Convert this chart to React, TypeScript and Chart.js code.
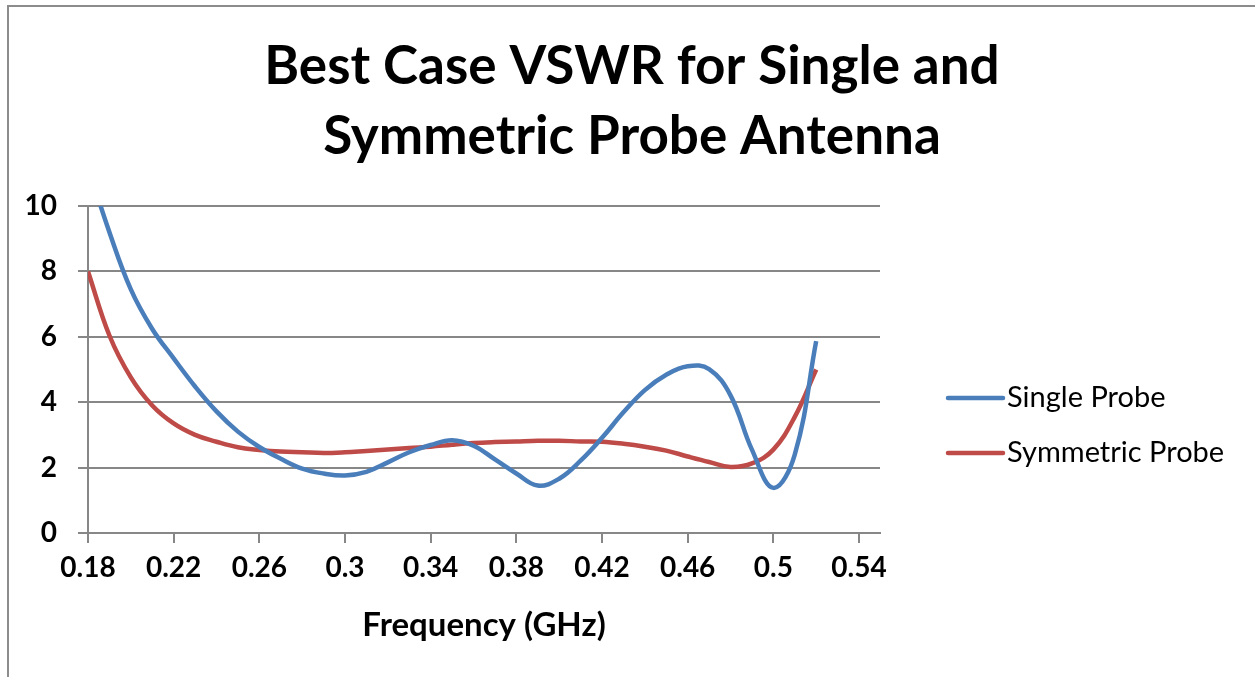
import React, { useEffect, useRef } from "react";
import { Chart, registerables } from "chart.js";

Chart.register(...registerables);

const frequency = [
  0.18, 0.19, 0.2, 0.21, 0.22, 0.23, 0.24, 0.25, 0.26, 0.27, 0.28, 0.29,
  0.3, 0.31, 0.32, 0.33, 0.34, 0.35, 0.36, 0.37, 0.38, 0.39, 0.4, 0.41,
  0.42, 0.43, 0.44, 0.45, 0.46, 0.47, 0.48, 0.49, 0.5, 0.51, 0.52,
];
const singleProbe = [
  11.2, 9.2, 7.45, 6.24, 5.34, 4.48, 3.72, 3.1, 2.63, 2.27, 1.97, 1.82,
  1.76, 1.87, 2.16, 2.47, 2.69, 2.84, 2.67, 2.25, 1.82, 1.45, 1.66, 2.21,
  2.91, 3.69, 4.37, 4.84, 5.1, 5.01, 4.21, 2.55, 1.38, 2.4, 5.87,
];
const symmetricProbe = [
  8.0, 6.04, 4.76, 3.9, 3.35, 3.0, 2.79, 2.62, 2.54, 2.49, 2.47, 2.45,
  2.47, 2.51, 2.55, 2.6, 2.64, 2.7, 2.75, 2.78, 2.8, 2.82, 2.82, 2.8,
  2.79, 2.73, 2.64, 2.52, 2.34, 2.17, 2.02, 2.13, 2.55, 3.55, 5.0,
];
const seriesLabels = ["Single Probe", "Symmetric Probe"];
const seriesColors = ["#4A7EBB", "#BE4B48"];
const xTicks = [0.18, 0.22, 0.26, 0.3, 0.34, 0.38, 0.42, 0.46, 0.5, 0.54];
const yTicks = [0, 2, 4, 6, 8, 10];
const titleLines = ["Best Case VSWR for Single and", "Symmetric Probe Antenna"];
const xAxisTitle = "Frequency (GHz)";

const FONT = "Lato, 'Open Sans', sans-serif";
const GRID = "#878787";

const frameTitleLegend = {
  id: "frameTitleLegend",
  afterDraw(chart: any) {
    const ctx = chart.ctx as CanvasRenderingContext2D;
    ctx.save();
    // outer frame
    ctx.strokeStyle = "#8c8c8c";
    ctx.lineWidth = 2;
    ctx.beginPath();
    ctx.moveTo(8, 677);
    ctx.lineTo(8, 6);
    ctx.lineTo(1255, 6);
    ctx.stroke();
    // title
    ctx.fillStyle = "#000";
    ctx.font = `bold 53px ${FONT}`;
    ctx.textAlign = "center";
    ctx.textBaseline = "alphabetic";
    titleLines.forEach((line, i) => {
      ctx.fillText(line, 632, 84 + i * 70);
    });
    // legend
    const ca = chart.chartArea;
    const lx0 = ca.right + 68;
    const lx1 = lx0 + 55;
    const baseY = 398;
    const gap = 55;
    chart.data.datasets.forEach((ds: any, i: number) => {
      const y = baseY + i * gap;
      ctx.strokeStyle = ds.borderColor;
      ctx.lineWidth = 4.5;
      ctx.lineCap = "round";
      ctx.beginPath();
      ctx.moveTo(lx0, y);
      ctx.lineTo(lx1, y);
      ctx.stroke();
      ctx.fillStyle = "#000";
      ctx.font = `29px ${FONT}`;
      ctx.textAlign = "left";
      ctx.textBaseline = "middle";
      ctx.fillText(ds.label, lx1 + 4, y);
    });
    ctx.restore();
  },
};

export default function App() {
  const ref = useRef<HTMLCanvasElement | null>(null);
  useEffect(() => {
    if (!ref.current) return;
    const chart = new Chart(ref.current, {
      type: "line",
      data: {
        datasets: [
          {
            label: seriesLabels[0],
            data: frequency.map((f, i) => ({ x: f, y: singleProbe[i] })),
            borderColor: seriesColors[0],
            backgroundColor: seriesColors[0],
            borderWidth: 4.5,
            pointRadius: 0,
            tension: 0.4,
            fill: false,
          },
          {
            label: seriesLabels[1],
            data: frequency.map((f, i) => ({ x: f, y: symmetricProbe[i] })),
            borderColor: seriesColors[1],
            backgroundColor: seriesColors[1],
            borderWidth: 4.5,
            pointRadius: 0,
            tension: 0.4,
            fill: false,
          },
        ],
      },
      options: {
        responsive: false,
        animation: false,
        devicePixelRatio: 1,
        layout: { padding: { left: 0, right: 375, top: 206, bottom: 24 } },
        plugins: {
          legend: { display: false },
          tooltip: { enabled: false },
          title: { display: false },
        },
        scales: {
          x: {
            type: "linear",
            min: 0.18,
            max: 0.5498,
            afterBuildTicks: (scale: any) => {
              scale.ticks = xTicks.map((v) => ({ value: v }));
            },
            afterFit: (scale: any) => {
              scale.height = 120;
            },
            ticks: {
              color: "#000",
              font: { family: FONT, size: 28, weight: "bold" },
              padding: 8,
              maxRotation: 0,
              autoSkip: false,
              callback: (v: any) => String(+Number(v).toFixed(2)),
            },
            grid: {
              drawOnChartArea: false,
              drawTicks: true,
              tickLength: 10,
              color: GRID,
              lineWidth: 2,
            },
            border: { display: true, color: GRID, width: 2 },
            title: {
              display: true,
              text: xAxisTitle,
              color: "#000",
              font: { family: FONT, size: 33, weight: "bold" },
              padding: { top: 4, bottom: 8 },
            },
          },
          y: {
            min: 0,
            max: 10,
            afterBuildTicks: (scale: any) => {
              scale.ticks = yTicks.map((v) => ({ value: v }));
            },
            afterFit: (scale: any) => {
              scale.width = 88;
            },
            ticks: {
              color: "#000",
              font: { family: FONT, size: 28, weight: "bold" },
              padding: 21,
            },
            grid: {
              color: GRID,
              lineWidth: 2,
              tickLength: 10,
              drawTicks: true,
            },
            border: { display: true, color: GRID, width: 2 },
          },
        },
      },
      plugins: [frameTitleLegend],
    });
    return () => chart.destroy();
  }, []);
  return (
    <div style={{ position: "fixed", left: 0, top: 0, width: 1255, height: 677, background: "#fff" }}>
      <canvas ref={ref} width={1255} height={677} style={{ display: "block" }} />
    </div>
  );
}
